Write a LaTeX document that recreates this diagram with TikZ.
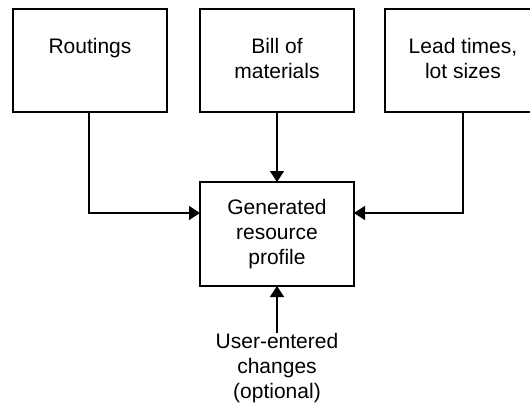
\documentclass[tikz,border=0pt]{standalone}
\usepackage{fontspec}
\setmainfont{Liberation Sans}
\usetikzlibrary{arrows.meta}
\begin{document}
\begin{tikzpicture}[x=1pt,y=1pt,
  box/.style={draw=black, line width=1.3pt, minimum width=154pt, minimum height=103pt, inner sep=0pt, outer sep=0pt},
  mainbox/.style={draw=black, line width=2.4pt, minimum width=154pt, minimum height=104pt, inner sep=0pt, outer sep=0pt},
  lbl/.style={align=center, anchor=north, inner sep=0pt, font=\fontsize{21}{25}\selectfont},
  conn/.style={draw=black, line width=1.3pt, -{Triangle[length=11pt,width=14pt]}}
]
\useasboundingbox (0,0) rectangle (530,405);
\clip (0,0) rectangle (530,405);
% boxes
\node[box] (rout) at (90,344.5) {};
\node[box] (bom) at (277,344.5) {};
\node[box, minimum width=156pt] (lead) at (463,344.5) {};
\node[mainbox] (gen) at (277,171) {};
% labels
\node[lbl] (routl) at (90,405-38) {Routings};
\node[lbl] (boml) at (277,405-37.8) {Bill of\\materials};
\node[lbl] (leadl) at (463,405-37.8) {Lead times,\\lot sizes};
\node[lbl] (genl) at (277,405-198.8) {Generated\\resource\\profile};
\node[lbl] (user) at (277,405-332.8) {User-entered\\changes\\(optional)};
% connectors
\coordinate (rc) at (89,192);
\coordinate (lc) at (463,192);
\draw[conn] (rout.south -| rc) -- (rc) -- (rc -| gen.west);
\draw[conn] (bom.south) -- (gen.north);
\draw[conn] (lead.south) -- (lc) -- (lc -| gen.east);
\draw[conn] (user.north) -- (gen.south);
\end{tikzpicture}
\end{document}
